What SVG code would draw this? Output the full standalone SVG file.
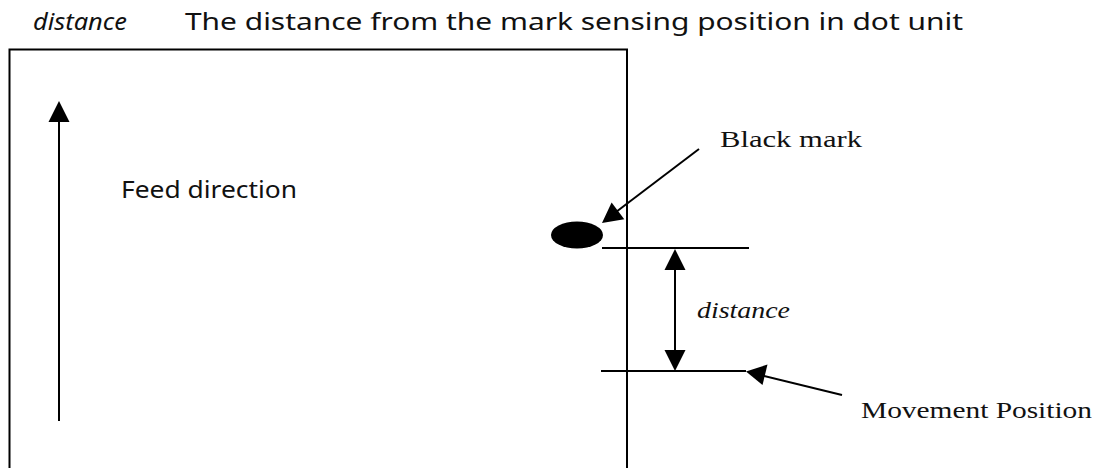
<svg xmlns="http://www.w3.org/2000/svg" width="1115" height="468" viewBox="0 0 1115 468">
<style>
.ln{stroke:#000;stroke-width:2;fill:none}
.sans{font-family:"Noto Sans","Liberation Sans",sans-serif;fill:#111}
.serif{font-family:"Liberation Serif","DejaVu Serif",serif;fill:#111}
.hd{fill:#000}
</style>
<rect width="1115" height="468" fill="#fff"/>
<g id="header">
<text class="sans" x="33" y="30" font-size="24" font-style="italic" textLength="94" lengthAdjust="spacingAndGlyphs">distance</text>
<text class="sans" x="185" y="30" font-size="24" textLength="778" lengthAdjust="spacingAndGlyphs">The distance from the mark sensing position in dot unit</text>
</g>
<g id="paper">
<path class="ln" d="M9.5,468 V49.5 H627 V468"/>
</g>
<g id="feed-direction">
<text class="sans" x="121" y="198" font-size="23" textLength="176" lengthAdjust="spacingAndGlyphs">Feed direction</text>
</g>
<g id="black-mark">
<ellipse cx="577" cy="235" rx="26" ry="13.5" fill="#000"/>
<text class="serif" x="720" y="147" font-size="24" textLength="142" lengthAdjust="spacingAndGlyphs">Black mark</text>
</g>
<g id="distance-label">
<text class="serif" x="697" y="318" font-size="24" font-style="italic" textLength="93" lengthAdjust="spacingAndGlyphs">distance</text>
</g>
<g id="movement-position">
<text class="serif" x="861" y="418" font-size="24" textLength="231" lengthAdjust="spacingAndGlyphs">Movement Position</text>
</g>
<g id="connectors">
<line class="ln" x1="59" y1="120" x2="59" y2="421"/>
<polygon class="hd" points="59,101 48.5,122 69.5,122"/>
<line class="ln" x1="602" y1="248" x2="749" y2="248"/>
<line class="ln" x1="601" y1="371" x2="746" y2="371"/>
<line class="ln" x1="675" y1="268" x2="675" y2="352"/>
<polygon class="hd" points="675,249 664.5,270 685.5,270"/>
<polygon class="hd" points="675,371 664.5,350 685.5,350"/>
<line class="ln" x1="699" y1="149" x2="616" y2="212"/>
<polygon class="hd" points="602,223 611.6,202.5 624.3,219.2"/>
<line class="ln" x1="842" y1="395" x2="762" y2="375.5"/>
<polygon class="hd" points="746,371.5 767.5,364.5 762.5,385"/>
</g>
</svg>
